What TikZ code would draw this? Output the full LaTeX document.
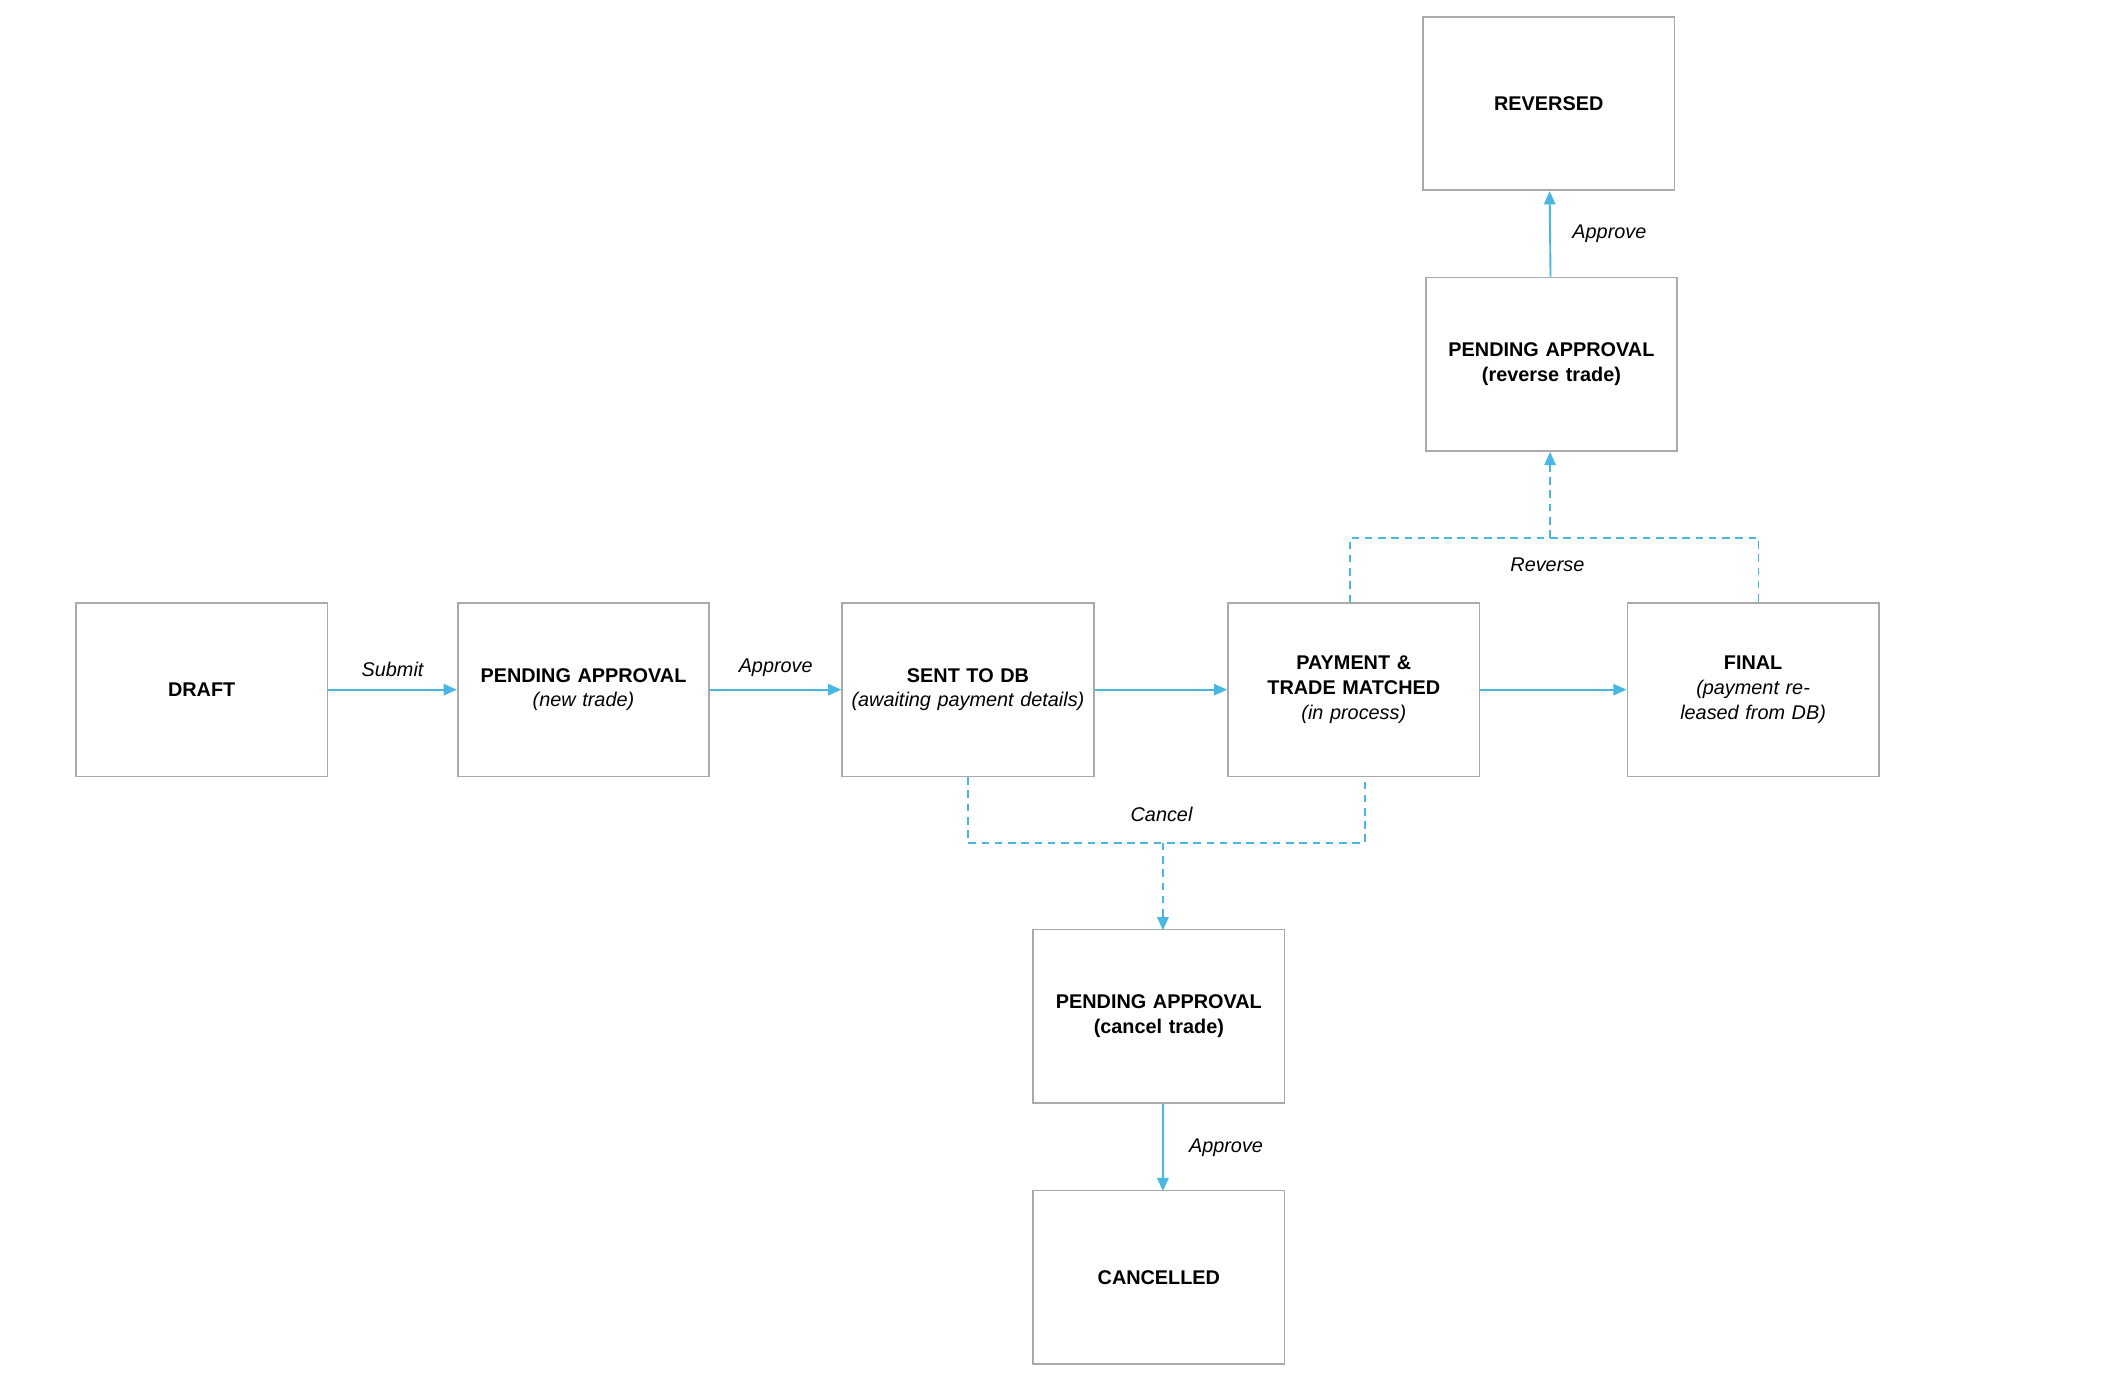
\documentclass[tikz,border=0pt]{standalone}
\usepackage{fontspec}
\setmainfont{Liberation Sans}
\usetikzlibrary{calc,arrows.meta}
\definecolor{flowblue}{RGB}{72,184,226}
\definecolor{boxgray}{RGB}{170,170,170}
\tikzset{
  state/.style={draw=boxgray,line width=0.9pt,minimum width=4.675cm,minimum height=3.225cm,
    align=center,font=\fontsize{10.5}{13}\selectfont,inner sep=2pt,text width=4.4cm},
  flow/.style={draw=flowblue,line width=1pt,-{Triangle[length=7pt,width=6pt]}},
  dflow/.style={flow,dash pattern=on 4pt off 3pt},
  dline/.style={draw=flowblue,line width=1pt,dash pattern=on 4pt off 3pt},
  lbl/.style={font=\fontsize{10.5}{13}\selectfont\itshape}
}
\begin{document}
\begin{tikzpicture}[x=0.025cm,y=-0.025cm]
        \useasboundingbox (0,0) rectangle (1568,1037);
        %nodes
        \node[state] (draft) at (150,513) {\textbf{DRAFT}};
        \node[state] (pnew) at (434,513) {\textbf{PENDING APPROVAL}\\\textit{(new trade)}};
        \node[state] (sent) at (720,513) {\textbf{SENT TO DB}\\\textit{(awaiting payment details)}};
        \node[state] (match) at (1007,513) {\textbf{PAYMENT \& TRADE MATCHED}\\\textit{(in process)}};
        \node[state] (final) at (1304,513) {\textbf{FINAL}\\\textit{(payment released from DB)}};
        \node[state] (prev) at (1154,271) {\textbf{PENDING APPROVAL}\\\textbf{(reverse trade)}};
        \node[state] (reversed) at (1152,77) {\textbf{REVERSED}};
        \node[state] (pcan) at (862,756) {\textbf{PENDING APPROVAL}\\\textbf{(cancel trade)}};
        \node[state] (cancelled) at (862,950) {\textbf{CANCELLED}};

        %edges
        \draw[flow] (draft) -- node[lbl,above=3pt] {Submit} (pnew);
        \draw[flow] (pnew) -- node[lbl,above=3pt] {Approve} (sent);
        \draw[flow] (sent) -- (match);
        \draw[flow] (match) -- (final);
        \draw[flow] (prev) -- node[lbl,right=8pt] {Approve} (reversed);
        \draw[flow] (pcan.north -| 865,0) coordinate (ca) (865,821) -- node[lbl,right=10pt] {Approve} (865,886);

        %cancel branch
        \coordinate (cl) at (720,627);
        \coordinate (cr) at (1015,627);
        \coordinate (cm) at (865,627);
        \draw[dline] (sent.south) -- (cl) -- (cr) -- (match.south -| cr);
        \draw[dflow] (cm) -- (865,692);
        \node[lbl] at (864,606) {Cancel};

        %reverse branch
        \coordinate (rl) at (1004,400);
        \coordinate (rr) at (1308,400);
        \coordinate (rm) at (1153,400);
        \draw[dline] (match.north -| rl) -- (rl) -- (rr) -- (final.north -| rr);
        \draw[dflow] (rm) -- (prev.south -| rm);
        \node[lbl] at (1151,420) {Reverse};
\end{tikzpicture}
\end{document}
